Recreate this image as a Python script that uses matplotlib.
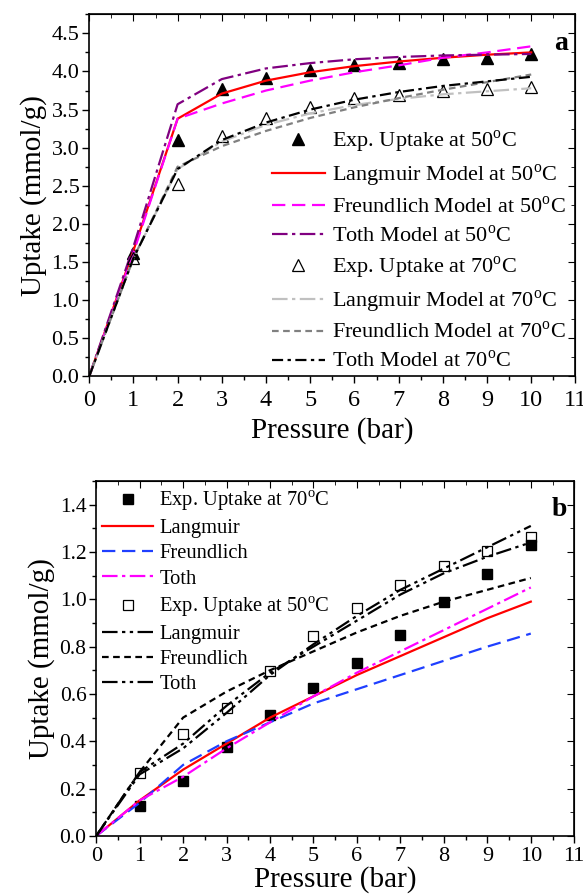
import matplotlib
matplotlib.use("Agg")
import matplotlib.pyplot as plt
from matplotlib.ticker import MultipleLocator

plt.rcParams["font.family"] = ["Liberation Serif", "DejaVu Serif"]
plt.rcParams["mathtext.fontset"] = "custom"
plt.rcParams["mathtext.rm"] = "Liberation Serif"

# ── panel a: uptake at 50 / 70 C ──────────────────────────────────────────────
p_model = [0, 1, 2, 3, 4, 5, 6, 7, 8, 9, 10]
p_exp = [1, 2, 3, 4, 5, 6, 7, 8, 9, 10]

a_exp50 = [1.62, 3.10, 3.77, 3.92, 4.02, 4.08, 4.11, 4.17, 4.18, 4.23]
a_lang50 = [0, 1.65, 3.38, 3.71, 3.88, 3.99, 4.07, 4.13, 4.18, 4.22, 4.25]
a_freu50 = [0, 1.62, 3.38, 3.58, 3.75, 3.88, 3.99, 4.08, 4.18, 4.25, 4.33]
a_toth50 = [0, 1.70, 3.57, 3.90, 4.04, 4.11, 4.16, 4.19, 4.21, 4.22, 4.23]

a_exp70 = [1.55, 2.53, 3.16, 3.39, 3.54, 3.65, 3.69, 3.74, 3.77, 3.79]
a_lang70 = [0, 1.55, 2.72, 3.08, 3.30, 3.45, 3.56, 3.64, 3.70, 3.74, 3.78]
a_freu70 = [0, 1.55, 2.75, 3.02, 3.22, 3.39, 3.53, 3.65, 3.76, 3.86, 3.96]
a_toth70 = [0, 1.55, 2.72, 3.10, 3.33, 3.50, 3.63, 3.73, 3.81, 3.87, 3.93]

# ── panel b ───────────────────────────────────────────────────────────────────
b_exp70 = [0.125, 0.23, 0.375, 0.51, 0.625, 0.73, 0.85, 0.99, 1.105, 1.23]
b_lang70 = [0, 0.15, 0.28, 0.39, 0.50, 0.59, 0.68, 0.76, 0.84, 0.92, 0.99]
b_freu70 = [0, 0.14, 0.30, 0.40, 0.48, 0.56, 0.62, 0.68, 0.74, 0.80, 0.855]
b_toth70 = [0, 0.15, 0.25, 0.37, 0.48, 0.59, 0.69, 0.78, 0.87, 0.96, 1.05]

b_exp50 = [0.265, 0.43, 0.54, 0.695, 0.845, 0.965, 1.06, 1.14, 1.205, 1.265]
b_lang50 = [0, 0.27, 0.39, 0.55, 0.69, 0.80, 0.91, 1.02, 1.11, 1.18, 1.24]
b_freu50 = [0, 0.27, 0.50, 0.61, 0.70, 0.78, 0.86, 0.93, 0.99, 1.04, 1.09]
b_toth50 = [0, 0.26, 0.37, 0.52, 0.68, 0.81, 0.93, 1.04, 1.13, 1.22, 1.31]

DEG = r"$^{\mathrm{o}}$C"


def style_axes(ax, ymax, ymajor, yminor, xfs, yfs, xpad):
    ax.set_xlim(0, 11)
    ax.set_ylim(0, ymax)
    ax.xaxis.set_major_locator(MultipleLocator(1))
    ax.xaxis.set_minor_locator(MultipleLocator(0.5))
    ax.yaxis.set_major_locator(MultipleLocator(ymajor))
    ax.yaxis.set_minor_locator(MultipleLocator(yminor))
    ax.tick_params(which="both", direction="out", top=False, right=False)
    ax.tick_params(which="major", length=5, width=1)
    ax.tick_params(which="minor", length=3, width=1)
    ax.tick_params(axis="x", labelsize=xfs, pad=xpad)
    ax.tick_params(axis="y", labelsize=yfs, pad=2)
    # inward ticks on the top / right spines
    sx = ax.secondary_xaxis("top")
    sx.xaxis.set_major_locator(MultipleLocator(1))
    sx.xaxis.set_minor_locator(MultipleLocator(0.5))
    sx.tick_params(which="both", direction="in", labeltop=False)
    sy = ax.secondary_yaxis("right")
    sy.yaxis.set_major_locator(MultipleLocator(ymajor))
    sy.yaxis.set_minor_locator(MultipleLocator(yminor))
    sy.tick_params(which="both", direction="in", labelright=False)
    for s_ax in (sx, sy):
        s_ax.tick_params(which="major", length=5)
        s_ax.tick_params(which="minor", length=3)
    for s in ax.spines.values():
        s.set_linewidth(1.2)
    ax.set_ylabel("Uptake (mmol/g)", fontsize=21, labelpad=3)


fig = plt.figure(figsize=(5.83, 8.94), dpi=100)

# ── panel a ───────────────────────────────────────────────────────────────────
ax = fig.add_axes([0.153, 0.579, 0.834, 0.405])
ax.plot(p_exp, a_exp50, linestyle="none", marker="^", ms=9, color="black",
        label="Exp. Uptake at 50" + DEG)
ax.plot(p_model, a_lang50, color="red", lw=1.6, label="Langmuir Model at 50" + DEG)
ax.plot(p_model, a_freu50, color="magenta", lw=1.6, linestyle=(0, (6, 3)),
        label="Freundlich Model at 50" + DEG)
ax.plot(p_model, a_toth50, color="#800080", lw=1.6, linestyle=(0, (7, 2, 1.5, 2)),
        label="Toth Model at 50" + DEG)
ax.plot(p_exp, a_exp70, linestyle="none", marker="^", ms=9, color="black",
        markerfacecolor="none", markeredgewidth=0.9, label="Exp. Uptake at 70" + DEG)
ax.plot(p_model, a_lang70, color="#c0c0c0", lw=1.6, linestyle=(0, (7, 2, 1.5, 2)),
        label="Langmuir Model at 70" + DEG)
ax.plot(p_model, a_freu70, color="#808080", lw=1.6, linestyle=(0, (3, 2)),
        label="Freundlich Model at 70" + DEG)
ax.plot(p_model, a_toth70, color="black", lw=1.6, linestyle=(0, (5, 2, 1.5, 2)),
        label="Toth Model at 70" + DEG)
style_axes(ax, 4.75, 0.5, 0.25, 17.5, 16, 5)
ax.set_xlabel("Pressure (bar)", fontsize=21, labelpad=4)
ax.legend(loc="upper left", bbox_to_anchor=(0.375, 0.685), frameon=False,
          fontsize=16, handlelength=2.4, handletextpad=0.3, labelspacing=0.34,
          borderpad=0, borderaxespad=0)
ax.text(0.985, 0.955, "a", transform=ax.transAxes, ha="right", va="top",
        fontsize=20, fontweight="bold")

# ── panel b ───────────────────────────────────────────────────────────────────
bx = fig.add_axes([0.165, 0.065, 0.82, 0.397])
bx.plot(p_exp, b_exp70, linestyle="none", marker="s", ms=7, color="black",
        label="Exp. Uptake at 70" + DEG)
bx.plot(p_model, b_lang70, color="red", lw=1.6, label="Langmuir")
bx.plot(p_model, b_freu70, color="#1f3fff", lw=1.6, linestyle=(0, (6, 3)),
        label="Freundlich")
bx.plot(p_model, b_toth70, color="magenta", lw=1.6, linestyle=(0, (7, 2, 1.5, 2)),
        label="Toth")
bx.plot(p_exp, b_exp50, linestyle="none", marker="s", ms=7, color="black",
        markerfacecolor="none", markeredgewidth=0.9, label="Exp. Uptake at 50" + DEG)
bx.plot(p_model, b_lang50, color="black", lw=1.6, linestyle=(0, (7, 2, 1.5, 2, 1.5, 2)),
        label="Langmuir")
bx.plot(p_model, b_freu50, color="black", lw=1.6, linestyle=(0, (3, 2)),
        label="Freundlich")
bx.plot(p_model, b_toth50, color="black", lw=1.6, linestyle=(0, (7, 2, 1.5, 2, 1.5, 2)),
        label="Toth")
style_axes(bx, 1.5, 0.2, 0.1, 16, 15.5, 3)
bx.set_xlabel("Pressure (bar)", fontsize=21, labelpad=0)
bx.legend(loc="upper left", bbox_to_anchor=(0.012, 0.978), frameon=False,
          fontsize=14.8, handlelength=2.5, handletextpad=0.3, labelspacing=0.28,
          borderpad=0, borderaxespad=0)
bx.text(0.985, 0.955, "b", transform=bx.transAxes, ha="right", va="top",
        fontsize=20, fontweight="bold")

fig.savefig("out.png", dpi=100)
